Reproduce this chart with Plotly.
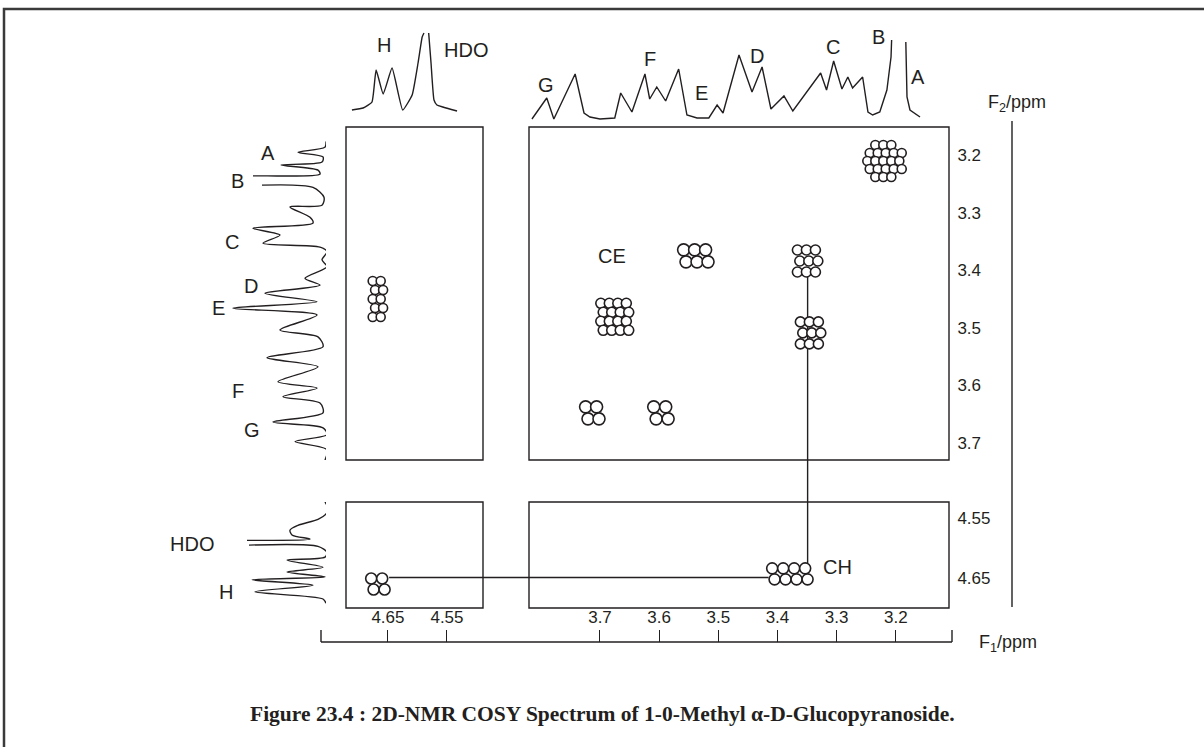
import plotly.graph_objects as go

W, H = 1204, 747
INK = "#231f20"
SANS = "Liberation Sans, Arial, sans-serif"
SERIF = "Liberation Serif, Times New Roman, serif"

# ---------------- data ----------------
f1_ticks_left = [4.65, 4.55]
f1_ticks_right = [3.7, 3.6, 3.5, 3.4, 3.3, 3.2]
f2_ticks_upper = [3.2, 3.3, 3.4, 3.5, 3.6, 3.7]
f2_ticks_lower = [4.55, 4.65]

# 1D projection along F1, sugar region (ppm, relative intensity)
proj_f1_ppm = [3.815, 3.790, 3.778, 3.742, 3.727, 3.717, 3.700, 3.675, 3.665, 3.646,
               3.624, 3.616, 3.604, 3.589, 3.567, 3.553, 3.536, 3.516, 3.502, 3.492,
               3.465, 3.443, 3.426, 3.411, 3.389, 3.374, 3.327, 3.317, 3.305, 3.291,
               3.281, 3.273, 3.256, 3.247, 3.239, 3.227, 3.215, 3.208, 3.207, None,
               3.183, 3.181, 3.176, 3.159]
proj_f1_int = [6, 27, 6, 51, 12, 8, 6, 7, 32, 13,
               51, 26, 38, 24, 56, 10, 7, 7, 20, 12,
               70, 33, 58, 16, 29, 14, 52, 35, 64, 36,
               48, 37, 48, 13, 10, 13, 35, 68, 85, None,
               83, 28, 15, 8]
proj_f1_labels = ["G", "F", "E", "D", "C", "B", "A"]
proj_f1_label_ppm = [3.791, 3.616, 3.528, 3.435, 3.306, 3.229, 3.163]
proj_f1_label_int = [40, 66, 32, 69, 78, 88, 48]

# 1D projection along F1, anomeric / HDO region
hdo_f1_ppm = [4.711, 4.692, 4.677, 4.670, 4.658, 4.643, 4.625, 4.609, 4.599, 4.592,
              4.589, None, 4.581, 4.577, 4.572, 4.567, 4.557, 4.533]
hdo_f1_int = [15, 17, 23, 55, 31, 57, 15, 30, 62, 88,
              92, None, 92, 62, 25, 20, 18, 14]
hdo_f1_labels = ["H", "HDO"]
hdo_f1_label_ppm = [4.657, 4.518]
hdo_f1_label_int = [80, 75]

# 1D projection along F2, sugar region
proj_f2_ppm = [3.176, 3.186, 3.195, 3.203, 3.212, 3.217, 3.226, 3.233, 3.236, 3.236,
               None, 3.252, 3.256, 3.273, 3.287, 3.290, 3.308, 3.318, 3.327, 3.339,
               3.353, 3.360, 3.368, 3.382, 3.394, 3.414, 3.426, 3.440, 3.455, 3.466,
               3.478, 3.504, 3.516, 3.533, 3.552, 3.568, 3.594, 3.605, 3.620, 3.631,
               3.648, 3.664, 3.674, 3.686, 3.698, 3.712, 3.730]
proj_f2_int = [0, 1, 28, 3, 4, 45, 8, 6, 60, 73,
               None, 64, 13, 2, 4, 36, 16, 13, 73, 46,
               63, 6, -1, 4, -1, 21, 6, 61, 9, 93,
               9, 46, 8, 3, 59, 8, 48, 9, 43, 6,
               3, 53, 3, -1, 31, -1, 1]
proj_f2_labels = ["A", "B", "C", "D", "E", "F", "G"]
proj_f2_label_ppm = [3.197, 3.245, 3.351, 3.427, 3.466, 3.610, 3.677]
proj_f2_label_int = [58, 89, 94, 75, 108, 88, 74]

# 1D projection along F2, anomeric / HDO region
hdo_f2_ppm = [4.523, 4.533, 4.543, 4.552, 4.562, 4.570, 4.578, 4.585, 4.587, None,
              4.595, 4.597, 4.607, 4.615, 4.620, 4.632, 4.640, 4.648, 4.653, 4.662,
              4.673, 4.685, 4.692]
hdo_f2_int = [1, -2, 0, 8, 28, 36, 34, 16, 79, None,
              77, 8, -1, 1, 39, 3, 39, 1, 74, 13,
              71, 3, 0]
hdo_f2_labels = ["HDO", "H"]
hdo_f2_label_ppm = [4.593, 4.673]
hdo_f2_label_int = [134, 100]

# cross peaks (F1, F2) and contour cluster size
peak_f1 = [3.219, 3.538, 3.349, 3.675, 3.344, 3.713, 3.597, 4.667, 4.667, 3.379]
peak_f2 = [3.210, 3.375, 3.384, 3.481, 3.509, 3.648, 3.648, 3.450, 4.660, 4.643]
peak_cols = [5, 3, 3, 4, 3, 2, 2, 2, 2, 4]
peak_rows = [5, 2, 3, 4, 3, 2, 2, 5, 2, 2]

# correlation labels and connecting lines
corr_labels = ["CE", "CH"]
corr_f1 = [3.680, 3.298]
corr_f2 = [3.375, 4.632]
link_v_f1 = 3.349
link_v_f2 = [3.41, 4.625]
link_h_f2 = 4.649
link_h_f1 = [4.648, 3.415]

caption = "Figure 23.4 : 2D-NMR COSY Spectrum of 1-0-Methyl \u03b1-D-Glucopyranoside."

# ---------------- geometry ----------------
def xdom(a, b):
    return [a / W, b / W]

def ydom(top, bottom):
    return [1 - bottom / H, 1 - top / H]

XL_DOM, XL_RNG = xdom(346, 483), [4.721, 4.489]
XR_DOM, XR_RNG = xdom(529, 949), [3.82, 3.11]
YU_DOM, YU_RNG = ydom(127, 460), [3.73, 3.151]
YD_DOM, YD_RNG = ydom(502, 608), [4.70, 4.523]
YT_DOM, YT_RNG = ydom(28, 125), [0, 97]
XS_DOM, XS_RNG = xdom(180, 326), [146, 0]

def to_paper(v, dom, rng):
    return dom[0] + (v - rng[0]) / (rng[1] - rng[0]) * (dom[1] - dom[0])

def ppu(dom, rng, span):
    return (dom[1] - dom[0]) * span / (rng[1] - rng[0])

LINE = dict(color=INK, width=1.4)

fig = go.Figure()

# projections
fig.add_trace(go.Scatter(x=proj_f1_ppm, y=proj_f1_int, xaxis="x2", yaxis="y3",
                         mode="lines", line=LINE))
fig.add_trace(go.Scatter(x=hdo_f1_ppm, y=hdo_f1_int, xaxis="x", yaxis="y3",
                         mode="lines", line=dict(color=INK, width=1.4, shape="spline", smoothing=0.4)))
fig.add_trace(go.Scatter(x=proj_f2_int, y=proj_f2_ppm, xaxis="x3", yaxis="y",
                         mode="lines", line=dict(color=INK, width=1.4, shape="spline", smoothing=0.8)))
fig.add_trace(go.Scatter(x=hdo_f2_int, y=hdo_f2_ppm, xaxis="x3", yaxis="y2",
                         mode="lines", line=dict(color=INK, width=1.4, shape="spline", smoothing=0.8)))

# cross peak clusters
styles = [(8, 8, 9), (11, 12, 12), (9, 11, 10), (8.5, 9, 10), (9, 11, 10),
          (11, 12, 12), (12, 12, 12), (8, 9, 9), (11, 11, 11), (11, 11, 11)]
for k in range(len(peak_f1)):
    left = peak_f1[k] > 4
    low = peak_f2[k] > 4
    xd, xr = (XL_DOM, XL_RNG) if left else (XR_DOM, XR_RNG)
    yd, yr = (YD_DOM, YD_RNG) if low else (YU_DOM, YU_RNG)
    kx, ky = ppu(xd, xr, W), ppu(yd, yr, H)
    sx, sy, sz = styles[k]
    nc, nr = peak_cols[k], peak_rows[k]
    bx, by = [], []
    for r in range(nr):
        for c in range(nc):
            if nc == 5 and nr == 5 and (r in (0, 4)) and (c in (0, 4)):
                continue
            dx = (c - (nc - 1) / 2) * sx + (1.2 if r % 2 else -1.2)
            dy = (r - (nr - 1) / 2) * sy
            bx.append(peak_f1[k] + dx / kx)
            by.append(peak_f2[k] - dy / ky)
    fig.add_trace(go.Scatter(x=bx, y=by, xaxis="x" if left else "x2",
                             yaxis="y2" if low else "y", mode="markers",
                             marker=dict(symbol="circle", size=sz, color="white",
                                         line=dict(color=INK, width=1.6))))

shapes = []
# panel frames
for xa in ("x", "x2"):
    for ya in ("y", "y2"):
        shapes.append(dict(type="rect", xref=xa + " domain", yref=ya + " domain",
                           x0=0, x1=1, y0=0, y1=1, line=LINE))

def f2_paper(v):
    return to_paper(v, YD_DOM, YD_RNG) if v > 4 else to_paper(v, YU_DOM, YU_RNG)

def f1_paper(v):
    return to_paper(v, XL_DOM, XL_RNG) if v > 4 else to_paper(v, XR_DOM, XR_RNG)

shapes.append(dict(type="line", xref="x2", yref="paper", layer="below",
                   x0=link_v_f1, x1=link_v_f1,
                   y0=f2_paper(link_v_f2[0]), y1=f2_paper(link_v_f2[1]), line=LINE))
shapes.append(dict(type="line", xref="paper", yref="y2", layer="below",
                   x0=f1_paper(link_h_f1[0]), x1=f1_paper(link_h_f1[1]),
                   y0=link_h_f2, y1=link_h_f2, line=LINE))

# F1 scale bar and F2 scale line
ax_y = 1 - 642 / H
shapes.append(dict(type="line", xref="paper", yref="paper", x0=321 / W, x1=952 / W,
                   y0=ax_y, y1=ax_y, line=LINE))
for xe in (321, 952):
    shapes.append(dict(type="line", xref="paper", yref="paper", x0=xe / W, x1=xe / W,
                       y0=ax_y, y1=1 - 630 / H, line=LINE))
shapes.append(dict(type="line", xref="paper", yref="paper", x0=1012 / W, x1=1012 / W,
                   y0=1 - 607 / H, y1=1 - 121 / H, line=LINE))
# outer frame
shapes.append(dict(type="rect", xref="paper", yref="paper", x0=4 / W, x1=1.05,
                   y0=-0.05, y1=1 - 9 / H, line=dict(color="#3a3a3a", width=2.5)))

ann = []
lab = dict(family=SANS, size=20, color=INK)
for t, x, y in zip(proj_f1_labels, proj_f1_label_ppm, proj_f1_label_int):
    ann.append(dict(text=t, x=x, y=y, xref="x2", yref="y3", showarrow=False, font=lab))
for t, x, y in zip(hdo_f1_labels, hdo_f1_label_ppm, hdo_f1_label_int):
    ann.append(dict(text=t, x=x, y=y, xref="x", yref="y3", showarrow=False, font=lab))
for t, y, x in zip(proj_f2_labels, proj_f2_label_ppm, proj_f2_label_int):
    ann.append(dict(text=t, x=x, y=y, xref="x3", yref="y", showarrow=False, font=lab))
for t, y, x in zip(hdo_f2_labels, hdo_f2_label_ppm, hdo_f2_label_int):
    ann.append(dict(text=t, x=x, y=y, xref="x3", yref="y2", showarrow=False, font=lab))
for t, x, y in zip(corr_labels, corr_f1, corr_f2):
    ann.append(dict(text=t, x=x, y=y, xref="x2", yref="y2" if y > 4 else "y",
                    showarrow=False, font=lab))
ann.append(dict(text="F<sub>2</sub>/ppm", x=986 / W, y=1 - 104 / H, xref="paper",
                yref="paper", xanchor="left", yanchor="middle", showarrow=False,
                font=dict(family=SANS, size=18, color=INK)))
ann.append(dict(text="F<sub>1</sub>/ppm", x=977 / W, y=1 - 643 / H, xref="paper",
                yref="paper", xanchor="left", yanchor="middle", showarrow=False,
                font=dict(family=SANS, size=18, color=INK)))
ann.append(dict(text="<b>" + caption + "</b>", x=0.5, y=1 - 714 / H, xref="paper",
                yref="paper", xanchor="center", yanchor="middle", showarrow=False,
                font=dict(family=SERIF, size=21.5, color=INK)))

tick_font = dict(family=SANS, size=17, color=INK)
f1_axis = dict(anchor="free", position=ax_y, side="top", ticks="outside", ticklen=12,
               tickwidth=1.4, tickcolor=INK, showgrid=False, zeroline=False,
               showline=False, tickfont=tick_font)
f2_axis = dict(anchor="free", position=949 / W, side="right", ticks="outside", ticklen=4,
               tickcolor="rgba(0,0,0,0)", showgrid=False, zeroline=False,
               showline=False, tickfont=tick_font)
hidden = dict(visible=False, showgrid=False, zeroline=False)

fig.update_layout(
    width=W, height=H, margin=dict(l=0, r=0, t=0, b=0),
    paper_bgcolor="white", plot_bgcolor="white", showlegend=False,
    xaxis=dict(domain=XL_DOM, range=XL_RNG, tickvals=f1_ticks_left,
               ticktext=[f"{v:g}" for v in f1_ticks_left], **f1_axis),
    xaxis2=dict(domain=XR_DOM, range=XR_RNG, tickvals=f1_ticks_right,
                ticktext=[f"{v:g}" for v in f1_ticks_right], **f1_axis),
    yaxis=dict(domain=YU_DOM, range=YU_RNG, tickvals=f2_ticks_upper,
               ticktext=[f"{v:g}" for v in f2_ticks_upper], **f2_axis),
    yaxis2=dict(domain=YD_DOM, range=YD_RNG, tickvals=f2_ticks_lower,
                ticktext=[f"{v:g}" for v in f2_ticks_lower], **f2_axis),
    yaxis3=dict(domain=YT_DOM, range=YT_RNG, anchor="x", **hidden),
    xaxis3=dict(domain=XS_DOM, range=XS_RNG, anchor="y", **hidden),
    shapes=shapes, annotations=ann,
)

# page body has a default 8px margin; drop it so the figure sits at the window origin
fig.write_html("out.html", config={"displayModeBar": False},
               post_script="document.body.style.margin='0';")
